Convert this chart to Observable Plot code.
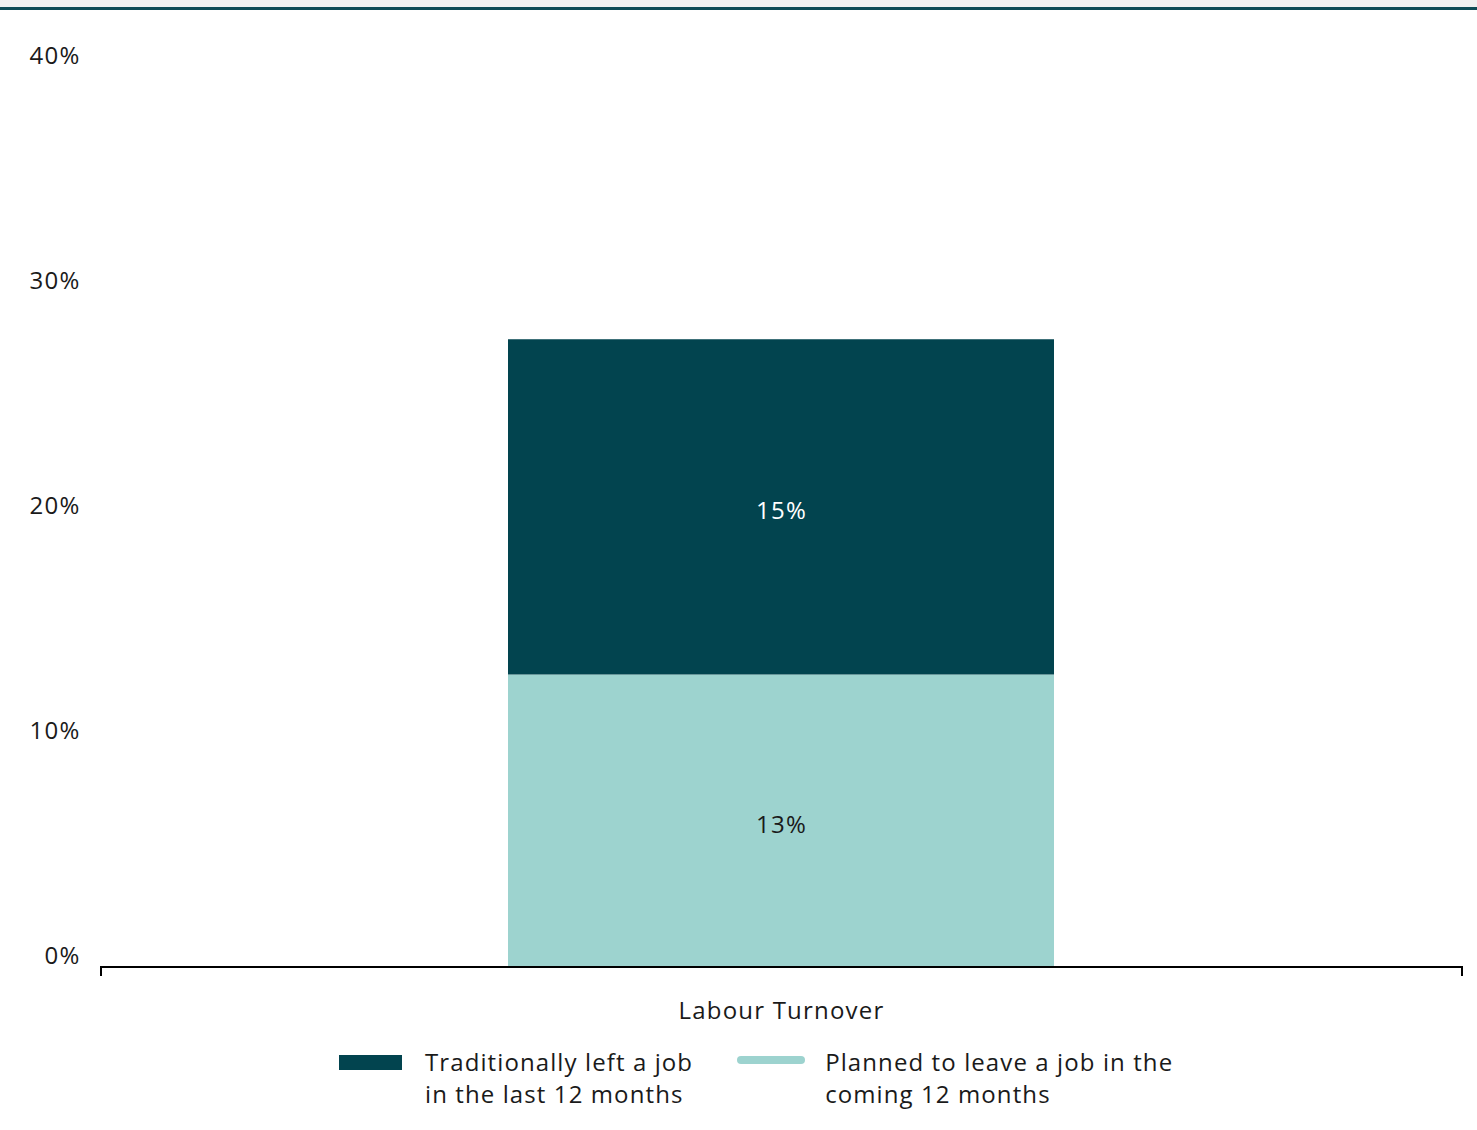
<!DOCTYPE html>
<html>
<head>
<meta charset="utf-8">
<script src="https://cdn.jsdelivr.net/npm/d3@7"></script>
<script src="https://cdn.jsdelivr.net/npm/@observablehq/plot@0.6"></script>
<style>
  html, body { margin: 0; padding: 0; background: #fff; }
  body { width: 1477px; font-family: "Open Sans", sans-serif; color: #1a1a1a; }
  .topband { height: 7px; background: #f0f0f0; border-bottom: 3px solid #0e4a55; }
  #chart svg { display: block; }
  #chart svg text { letter-spacing: 1.2px; }
  .legend { display: flex; justify-content: flex-start; padding-left: 339px; margin-top: 11px; font-size: 24px; line-height: 32px; letter-spacing: 1.1px; }
  .item { display: flex; align-items: flex-start; }
  .sw { flex: none; }
</style>
</head>
<body>
<div class="topband"></div>
<div id="chart"></div>
<div class="legend" id="legend"></div>
<script>
const categories = ["Labour Turnover"];
const seriesNames = ["Planned to leave a job in the coming 12 months", "Traditionally left a job in the last 12 months"];
const legendLabels = [["Traditionally left a job", "in the last 12 months"], ["Planned to leave a job in the", "coming 12 months"]];
const plannedValues = [13.0];
const leftValues = [14.9];
const yTicks = [0, 10, 20, 30, 40];
const colors = ["#9dd3cf", "#02444f"];
const textColors = ["#1a1a1a", "#ffffff"];

const data = [];
categories.forEach((c, i) => {
  data.push({category: c, series: seriesNames[0], value: plannedValues[i]});
  data.push({category: c, series: seriesNames[1], value: leftValues[i]});
});

const axisDomain = () => (index, scales, values, dim) => {
  const y0 = dim.height - dim.marginBottom;
  const x0 = dim.marginLeft, x1 = dim.width - dim.marginRight;
  const p = document.createElementNS("http://www.w3.org/2000/svg", "path");
  p.setAttribute("d", `M${x0},${y0 + 9}V${y0}H${x1}V${y0 + 9}`);
  p.setAttribute("fill", "none");
  p.setAttribute("stroke", "#000");
  p.setAttribute("stroke-width", "2");
  return p;
};

const chart = Plot.plot({
  width: 1477,
  height: 1025,
  marginTop: 57,
  marginBottom: 68,
  marginLeft: 101,
  marginRight: 15,
  style: {fontFamily: "Open Sans, sans-serif", fontSize: "24px", color: "#1a1a1a", background: "#fff"},
  x: {domain: categories, padding: 0.4267, label: null},
  y: {domain: [0, 40], label: null},
  color: {domain: seriesNames, range: colors},
  marks: [
    Plot.axisY({ticks: yTicks, tickSize: 0, tickPadding: 21, tickFormat: d => d + "%", dy: -11, fontSize: 24, fill: "#1a1a1a"}),
    Plot.axisX({tickSize: 0, tickPadding: 34, fontSize: 24, fill: "#1a1a1a"}),
    Plot.barY(data, Plot.stackY({x: "category", y: "value", fill: "series", order: seriesNames})),
    Plot.text(data, Plot.stackY({x: "category", y: "value", z: "series", order: seriesNames,
      text: d => d3.format(".0f")(d.value) + "%",
      fill: d => textColors[seriesNames.indexOf(d.series)], fontSize: 24, dy: 4})),
    axisDomain()
  ]
});
document.getElementById("chart").appendChild(chart);

const legend = document.getElementById("legend");
const order = [1, 0];
order.forEach((si, k) => {
  const item = document.createElement("div");
  item.className = "item";
  item.style.marginRight = k === 0 ? "44px" : "0";
  const sw = document.createElement("div");
  sw.className = "sw";
  if (si === 1) {
    sw.style.cssText = `width:63px;height:15px;background:${colors[1]};margin-top:9px;margin-right:23px;`;
  } else {
    sw.style.cssText = `width:68px;height:8px;background:${colors[0]};border-radius:4px;margin-top:10px;margin-right:20px;`;
  }
  const tx = document.createElement("div");
  tx.innerHTML = legendLabels[k].join("<br>");
  item.appendChild(sw);
  item.appendChild(tx);
  legend.appendChild(item);
});
</script>
</body>
</html>
